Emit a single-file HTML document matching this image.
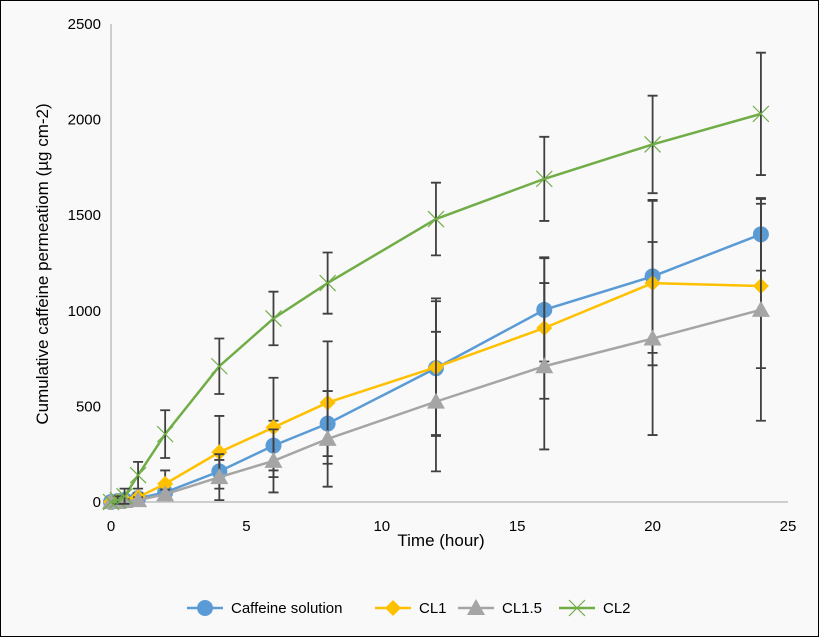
<!DOCTYPE html>
<html><head><meta charset="utf-8"><style>
html,body{margin:0;padding:0;background:#fff}
#wrap{position:relative;width:817px;height:635px;border:1px solid #000;background:#f9f9f9;font-family:"Liberation Sans",sans-serif}
</style></head><body>
<div id="wrap">
<svg id="chart" width="817" height="635"></svg>
</div>
<script>
const times=[0,0.25,0.5,1,2,4,6,8,12,16,20,24];
const caffeine=[0,5,10,20,50,160,295,410,700,1005,1180,1400];
const caffeineErr=[0,5,10,15,20,60,130,170,350,270,400,190];
const cl1=[0,5,10,25,95,260,390,520,705,910,1145,1130];
const cl1Err=[0,5,10,20,70,190,260,320,360,370,430,430];
const cl15=[0,0,5,10,40,130,215,330,525,710,855,1005];
const cl15Err=[0,5,10,15,25,120,165,250,365,435,505,580];
const cl2=[0,10,30,140,355,710,960,1145,1480,1690,1870,2030];
const cl2Err=[0,20,40,70,125,145,140,160,190,220,255,320];
const xTicks=[0,5,10,15,20,25];
const yTicks=[0,500,1000,1500,2000,2500];
const NS="http://www.w3.org/2000/svg";
const svg=document.getElementById('chart');
const X=v=>110+v*(787-110)/25;
const Y=v=>501-v*(501-23)/2500;
function mk(t,a,p){const e=document.createElementNS(NS,t);for(const k in a)e.setAttribute(k,a[k]);(p||svg).appendChild(e);return e;}
// axes
let ax=mk('line',{x1:X(0),y1:Y(0),x2:X(25),y2:Y(0),stroke:'#bfbfbf','stroke-width':1.5});


let ay=mk('line',{x1:X(0),y1:Y(0),x2:X(0),y2:Y(2500),stroke:'#bfbfbf','stroke-width':1.5});


xTicks.forEach(t=>{const e=mk('text',{x:X(t),y:530,'text-anchor':'middle','font-size':15,fill:'#000'});e.textContent=t;

});
yTicks.forEach(t=>{const e=mk('text',{x:X(0)-10,y:Y(t)+5,'text-anchor':'end','font-size':15,fill:'#000'});e.textContent=t;

});
let xt=mk('text',{x:440,y:545,'text-anchor':'middle','font-size':17});xt.textContent='Time (hour)';


let yt=mk('text',{x:0,y:0,'text-anchor':'middle','font-size':17,transform:'translate(47,263) rotate(-90)'});yt.textContent='Cumulative caffeine permeatiom (µg cm-2)';


const series=[
{name:'caffeine',vals:caffeine,err:caffeineErr,color:'#5b9bd5',m:'circle'},
{name:'cl1',vals:cl1,err:cl1Err,color:'#ffc000',m:'diamond'},
{name:'cl1-5',vals:cl15,err:cl15Err,color:'#a5a5a5',m:'triangle'},
{name:'cl2',vals:cl2,err:cl2Err,color:'#70ad47',m:'x'}];
function marker(m,x,y,c,g){
 if(m==='circle')return mk('circle',{cx:x,cy:y,r:8,fill:c},g);
 if(m==='diamond')return mk('polygon',{points:`${x},${y-8} ${x+8},${y} ${x},${y+8} ${x-8},${y}`,fill:c},g);
 if(m==='triangle')return mk('polygon',{points:`${x},${y-9} ${x+9},${y+7} ${x-9},${y+7}`,fill:c},g);
 return mk('path',{d:`M${x-8},${y-8}L${x+8},${y+8}M${x-8},${y+8}L${x+8},${y-8}`,stroke:c,'stroke-width':1.2,fill:'none'},g);
}
series.forEach(s=>{
 const g=mk('g',{});
 
 
 mk('polyline',{points:times.map((t,i)=>X(t)+','+Y(s.vals[i])).join(' '),fill:'none',stroke:s.color,'stroke-width':2.5},g);
 times.forEach((t,i)=>{
  if(s.err[i]>0){const x=X(t),y1=Y(s.vals[i]-s.err[i]),y2=Y(s.vals[i]+s.err[i]);
   const eb=mk('path',{d:`M${x},${y1}L${x},${y2}M${x-5},${y1}L${x+5},${y1}M${x-5},${y2}L${x+5},${y2}`,stroke:'#404040','stroke-width':1.8,fill:'none'},g);
   
   }
  const p=marker(s.m,X(t),Y(s.vals[i]),s.color,g);
  
  
 });
});
// legend
const leg=[['Caffeine solution','#5b9bd5','circle',186],['CL1','#ffc000','diamond',374],['CL1.5','#a5a5a5','triangle',457],['CL2','#70ad47','x',558]];
leg.forEach(l=>{
 const g=mk('g',{});
 
 
 mk('line',{x1:l[3],y1:607,x2:l[3]+36,y2:607,stroke:l[1],'stroke-width':2.5},g);
 marker(l[2],l[3]+18,607,l[1],g);
 const t=mk('text',{x:l[3]+44,y:612,'font-size':15},g);t.textContent=l[0];
});
</script>
</body></html>
